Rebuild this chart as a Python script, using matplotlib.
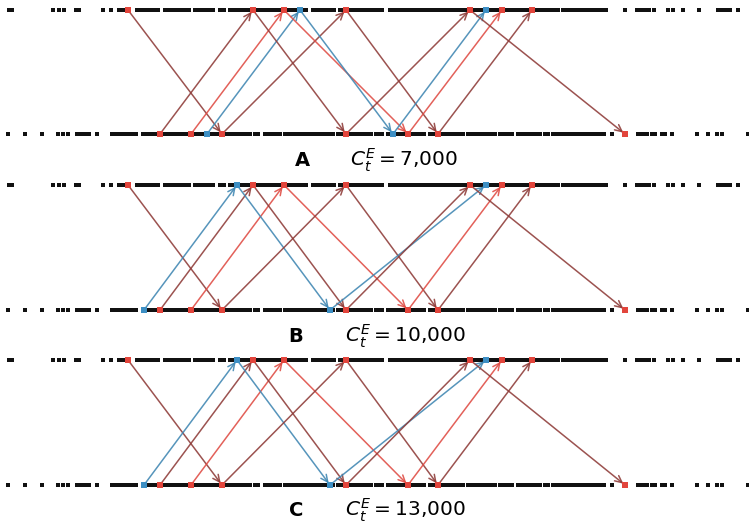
import matplotlib
matplotlib.use("Agg")
import matplotlib.pyplot as plt

# ---------------- data (x positions in chart units) ----------------
top_dots = [9, 12, 53, 59, 64, 76, 79, 103, 111, 119, 122, 125,
            137, 140, 143, 146, 149, 152, 155, 158,
            165, 168, 171, 174, 177, 180, 183, 186, 189,
            195, 198, 201, 204, 207, 210, 213, 220, 224,
            230, 233, 236, 239, 242, 245, 248, 251,
            255, 258, 261, 264, 267, 270, 273, 276, 279, 282, 285, 288, 291,
            294, 297, 300, 303, 306,
            313, 317, 321, 324, 327, 330, 334,
            340, 343, 346, 349, 352, 355, 358, 361, 364, 367, 370, 373, 376,
            379, 382,
            390, 393, 396, 399, 402, 405, 408, 411, 414, 417, 420, 423, 426,
            429, 432, 435, 438, 441, 444, 447, 450, 453, 456, 459, 462, 465,
            468, 471, 474, 477, 480, 483, 486, 489, 492, 495, 498, 501, 504,
            507, 510, 513, 516, 519, 522, 525, 528, 531,
            535, 538, 541, 544, 548, 551, 555, 558, 563, 567, 571, 575, 579,
            583, 587, 591, 595, 599, 603, 606,
            625, 637, 641, 645, 649, 654, 668, 673, 683, 699,
            718, 722, 726, 730, 738]

bottom_dots = [8, 25, 42, 58, 63, 68, 77, 81, 85, 89, 97,
               112, 116, 120, 124, 128, 132, 136, 143, 147, 151, 155,
               160, 163, 166, 169, 172, 175, 178, 181, 184, 187, 190, 193,
               196, 199, 202, 205, 208, 211, 214, 217, 220, 223, 226, 229,
               232, 235, 238, 241, 244, 247, 250, 255, 258, 265, 268, 271,
               274, 277, 280, 285, 288, 291, 294, 297, 300, 303, 306, 309,
               312, 315, 318, 321, 324, 327, 330, 333,
               338, 341, 344, 347, 350, 353, 356, 359, 362, 365, 368, 371,
               376, 379, 382, 388, 391, 394, 397, 400, 403, 406, 409, 412,
               415, 418, 421, 424, 430, 433, 436, 439, 442, 445, 448, 451,
               454, 457, 460, 463, 468, 471, 474, 477, 480, 483, 486, 489,
               492, 495, 500, 503, 506, 509, 512, 518, 521, 524, 528, 531,
               534, 537, 540, 545, 548, 553, 556, 559, 562, 565, 568, 571,
               574, 577, 580, 583, 586, 589, 592, 595, 598, 601, 604, 612,
               638, 641, 644, 647, 652, 655, 662, 665, 672, 697, 708, 717,
               722, 748]

panel_letters = ["A", "B", "C"]
panel_costs = ["7{,}000", "10{,}000", "13{,}000"]

# markers: (row, x, kind)
markers_A = [("top", 128, "red"), ("top", 253, "red"), ("top", 284, "red"),
             ("top", 300, "blue"), ("top", 346, "red"), ("top", 470, "red"),
             ("top", 486, "blue"), ("top", 502, "red"), ("top", 532, "red"),
             ("bot", 160, "red"), ("bot", 191, "red"), ("bot", 207, "blue"),
             ("bot", 222, "red"), ("bot", 346, "red"), ("bot", 393, "blue"),
             ("bot", 408, "red"), ("bot", 438, "red"), ("bot", 625, "red")]
markers_BC = [("top", 128, "red"), ("top", 237, "blue"), ("top", 253, "red"),
              ("top", 284, "red"), ("top", 346, "red"), ("top", 470, "red"),
              ("top", 486, "blue"), ("top", 502, "red"), ("top", 532, "red"),
              ("bot", 144, "blue"), ("bot", 160, "red"), ("bot", 191, "red"),
              ("bot", 222, "red"), ("bot", 330, "blue"), ("bot", 346, "red"),
              ("bot", 408, "red"), ("bot", 438, "red"), ("bot", 625, "red")]

# arrows: (start row, x start, x end, kind)
arrows_A = [("top", 128, 222, "dark"), ("bot", 160, 253, "dark"),
            ("bot", 191, 284, "red"), ("bot", 207, 300, "blue"),
            ("bot", 222, 346, "dark"), ("top", 253, 346, "dark"),
            ("top", 284, 408, "red"), ("top", 300, 393, "blue"),
            ("top", 346, 438, "dark"), ("bot", 346, 470, "dark"),
            ("bot", 393, 486, "blue"), ("bot", 408, 502, "red"),
            ("bot", 438, 532, "dark"), ("top", 470, 625, "dark")]
arrows_BC = [("top", 128, 222, "dark"), ("bot", 144, 237, "blue"),
             ("bot", 160, 253, "dark"), ("bot", 191, 284, "red"),
             ("top", 237, 330, "blue"), ("top", 253, 346, "dark"),
             ("top", 284, 408, "red"), ("bot", 222, 346, "dark"),
             ("top", 346, 438, "dark"), ("bot", 330, 486, "blue"),
             ("bot", 346, 470, "dark"), ("bot", 408, 502, "red"),
             ("bot", 438, 532, "dark"), ("top", 470, 625, "dark")]

panel_markers = [markers_A, markers_BC, markers_BC]
panel_arrows = [arrows_A, arrows_BC, arrows_BC]

# ---------------- styling / layout ----------------
marker_colors = {"red": "#e2453c", "blue": "#3d8fc4"}
arrow_colors = {"dark": "#8e3b38", "red": "#df4b43", "blue": "#3f86b2"}
row_y = [(10, 134), (185, 310), (360, 485)]
label_y = [160, 336, 510]
letter_x = [302, 296, 296]
math_x = [404, 405, 405]

fig = plt.figure(figsize=(7.49, 5.23), dpi=100)
ax = fig.add_axes([0, 0, 1, 1])
ax.set_xlim(0, 749)
ax.set_ylim(523, 0)
ax.axis("off")

for p in range(3):
    yt, yb = row_y[p]
    ypos = {"top": yt, "bot": yb}
    ax.plot(top_dots, [yt] * len(top_dots), ls="none", marker="s",
            ms=2.2, mew=0, color="#111111", zorder=2)
    ax.plot(bottom_dots, [yb] * len(bottom_dots), ls="none", marker="s",
            ms=2.2, mew=0, color="#111111", zorder=2)
    for row, x0, x1, kind in panel_arrows[p]:
        y0 = ypos[row]
        y1 = yb if row == "top" else yt
        ax.annotate("", xy=(x1, y1), xytext=(x0, y0),
                    arrowprops=dict(arrowstyle="->,head_length=0.5,head_width=0.24",
                                    color=arrow_colors[kind], lw=1.1, alpha=0.88,
                                    shrinkA=0, shrinkB=1.5),
                    zorder=3)
    for row, x, kind in panel_markers[p]:
        ax.plot([x], [ypos[row]], ls="none", marker="s", ms=4.4, mew=0,
                color=marker_colors[kind], zorder=4)
    ax.text(letter_x[p], label_y[p], panel_letters[p], ha="center", va="center",
            fontsize=14, fontweight="bold")
    ax.text(math_x[p], label_y[p], r"$C_t^E = %s$" % panel_costs[p],
            ha="center", va="center", fontsize=14.5)

fig.savefig("out.png", dpi=100)
